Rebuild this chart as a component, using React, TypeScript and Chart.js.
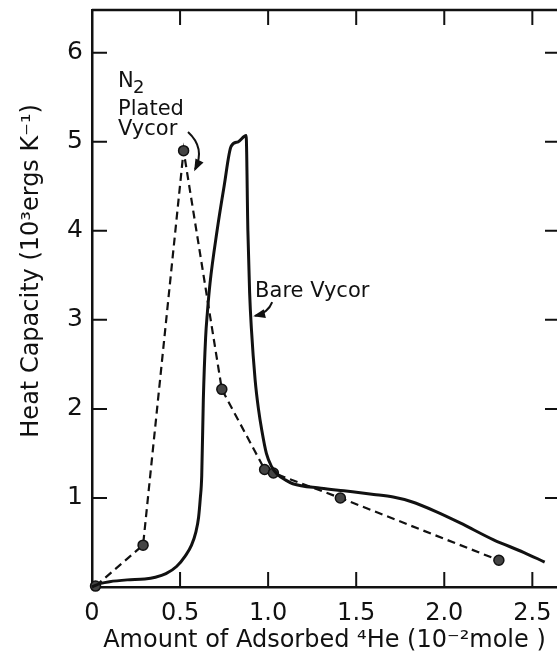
import { useEffect, useRef } from 'react';
import { Chart, registerables } from 'chart.js';

Chart.register(...registerables);

// Bare Vycor (solid curve)
const bareX = [0, 0.05, 0.1, 0.2, 0.3, 0.36, 0.42, 0.48, 0.53, 0.565, 0.59, 0.605, 0.615, 0.623, 0.632, 0.645, 0.655, 0.67, 0.71, 0.75, 0.79, 0.83, 0.875, 0.885, 0.895, 0.905, 0.926, 0.945, 0.964, 0.99, 1.02, 1.05, 1.1, 1.14, 1.3, 1.43, 1.6, 1.71, 1.81, 1.95, 2.09, 2.28, 2.45, 2.57];
const bareY = [0, 0.04, 0.06, 0.08, 0.09, 0.11, 0.15, 0.23, 0.35, 0.47, 0.62, 0.78, 1.0, 1.25, 2.1, 2.8, 3.08, 3.41, 4.0, 4.5, 4.95, 5.0, 5.07, 4.0, 3.3, 2.9, 2.33, 2.0, 1.76, 1.5, 1.35, 1.27, 1.2, 1.16, 1.11, 1.08, 1.04, 1.01, 0.96, 0.85, 0.72, 0.53, 0.39, 0.28];

// N2 plated Vycor (dashed, with points)
const platedX = [0.02, 0.29, 0.52, 0.737, 0.98, 1.03, 1.41, 2.31];
const platedY = [0.01, 0.47, 4.9, 2.22, 1.32, 1.28, 1.0, 0.3];

const xTickValues = [0, 0.5, 1.0, 1.5, 2.0, 2.5];
const xTickLabels = ['0', '0.5', '1.0', '1.5', '2.0', '2.5'];
const yTickValues = [1, 2, 3, 4, 5, 6];
const yTickLabels = ['1', '2', '3', '4', '5', '6'];

const xTitle = 'Amount of Adsorbed \u2074He (10\u207B\u00B2mole )';
const yTitle = 'Heat Capacity (10\u00B3ergs K\u207B\u00B9)';

// annotation texts, anchored in data coordinates (left, baseline)
const noteTexts = ['N', '2', 'Plated', 'Vycor', 'Bare Vycor'];
const noteX = [0.148, 0.233, 0.148, 0.148, 0.926];
const noteY = [5.62, 5.55, 5.3, 5.08, 3.26];
const noteSize = [21, 18, 21, 21, 21];

// curved arrows: start, control, end (data coords)
const arrowFrom = [[0.545, 5.11], [1.023, 3.2]];
const arrowCtrl = [[0.645, 4.93], [1.0, 3.08]];
const arrowTo = [[0.585, 4.69], [0.926, 3.045]];

const FONT = '"DejaVu Sans", sans-serif';
const INK = '#111';

const decorPlugin = {
  id: 'decor',
  afterDraw(chart: any) {
    const { ctx, chartArea } = chart;
    const xs = chart.scales.x;
    const ys = chart.scales.y;
    const { left, right, top, bottom } = chartArea;
    ctx.save();
    ctx.strokeStyle = INK;
    ctx.fillStyle = INK;
    // top frame line
    ctx.lineWidth = 2.5;
    ctx.beginPath();
    ctx.moveTo(left, top);
    ctx.lineTo(right, top);
    ctx.stroke();
    // inward ticks
    const tl = 15;
    ctx.lineWidth = 2;
    xTickValues.forEach((v) => {
      if (v === 0) return;
      const px = xs.getPixelForValue(v);
      ctx.beginPath();
      ctx.moveTo(px, bottom);
      ctx.lineTo(px, bottom - tl);
      ctx.moveTo(px, top);
      ctx.lineTo(px, top + tl);
      ctx.stroke();
    });
    yTickValues.forEach((v) => {
      const py = ys.getPixelForValue(v);
      ctx.beginPath();
      ctx.moveTo(left, py);
      ctx.lineTo(left + tl, py);
      ctx.moveTo(right, py);
      ctx.lineTo(right - 12, py);
      ctx.stroke();
    });
    // y title (rotated)
    ctx.save();
    ctx.font = `24px ${FONT}`;
    ctx.textAlign = 'center';
    ctx.textBaseline = 'middle';
    ctx.translate(32, ys.getPixelForValue(3.55));
    ctx.rotate(-Math.PI / 2);
    ctx.fillText(yTitle, 0, 0);
    ctx.restore();
    // notes
    ctx.textAlign = 'left';
    ctx.textBaseline = 'alphabetic';
    noteTexts.forEach((t, i) => {
      ctx.font = `${noteSize[i]}px ${FONT}`;
      ctx.fillText(t, xs.getPixelForValue(noteX[i]), ys.getPixelForValue(noteY[i]));
    });
    // arrows
    ctx.lineWidth = 2;
    arrowFrom.forEach((f, i) => {
      const x0 = xs.getPixelForValue(f[0]);
      const y0 = ys.getPixelForValue(f[1]);
      const cx = xs.getPixelForValue(arrowCtrl[i][0]);
      const cy = ys.getPixelForValue(arrowCtrl[i][1]);
      const x1 = xs.getPixelForValue(arrowTo[i][0]);
      const y1 = ys.getPixelForValue(arrowTo[i][1]);
      ctx.beginPath();
      ctx.moveTo(x0, y0);
      ctx.quadraticCurveTo(cx, cy, x1, y1);
      ctx.stroke();
      const ang = Math.atan2(y1 - cy, x1 - cx);
      const L = 10;
      const W = 4.5;
      ctx.beginPath();
      ctx.moveTo(x1 + Math.cos(ang) * 2, y1 + Math.sin(ang) * 2);
      ctx.lineTo(x1 - Math.cos(ang) * L + Math.sin(ang) * W, y1 - Math.sin(ang) * L - Math.cos(ang) * W);
      ctx.lineTo(x1 - Math.cos(ang) * L - Math.sin(ang) * W, y1 - Math.sin(ang) * L + Math.cos(ang) * W);
      ctx.closePath();
      ctx.fill();
    });
    ctx.restore();
  },
};

export default function App() {
  const ref = useRef<HTMLCanvasElement | null>(null);
  useEffect(() => {
    if (!ref.current) return;
    const chart = new Chart(ref.current, {
      type: 'scatter',
      data: {
        datasets: [
          {
            label: 'Bare Vycor',
            data: bareX.map((x, i) => ({ x, y: bareY[i] })),
            showLine: true,
            borderColor: INK,
            borderWidth: 3,
            pointRadius: 0,
            cubicInterpolationMode: 'monotone',
            fill: false,
            clip: false,
          } as any,
          {
            label: 'N2 Plated Vycor',
            data: platedX.map((x, i) => ({ x, y: platedY[i] })),
            showLine: true,
            borderColor: INK,
            borderWidth: 2.2,
            borderDash: [8, 5],
            tension: 0,
            pointRadius: 5,
            pointBackgroundColor: '#444',
            pointBorderColor: INK,
            pointBorderWidth: 1.5,
            clip: false,
          } as any,
        ],
      },
      options: {
        animation: false,
        responsive: false,
        layout: { autoPadding: false, padding: { top: 10, left: 0, right: 0, bottom: 0 } },
        plugins: { legend: { display: false }, tooltip: { enabled: false } },
        scales: {
          x: {
            type: 'linear',
            min: 0,
            max: 2.64,
            afterBuildTicks: (s: any) => {
              s.ticks = xTickValues.map((v) => ({ value: v }));
            },
            afterFit: (s: any) => {
              s.height = 69;
              s.paddingLeft = 0;
              s.paddingRight = 0;
            },
            ticks: {
              autoSkip: false,
              maxRotation: 0,
              padding: 12,
              color: INK,
              font: { family: FONT, size: 24 },
              callback: (v: any) => {
                const i = xTickValues.indexOf(Number(v));
                return i >= 0 ? xTickLabels[i] : '';
              },
            },
            grid: { display: false, drawTicks: false },
            border: { display: true, color: INK, width: 2.5 },
            title: {
              display: true,
              text: xTitle,
              color: INK,
              font: { family: FONT, size: 24 },
              padding: { top: 0, bottom: 1 },
            },
          },
          y: {
            type: 'linear',
            min: 0,
            max: 6.48,
            afterBuildTicks: (s: any) => {
              s.ticks = yTickValues.map((v) => ({ value: v }));
            },
            afterFit: (s: any) => {
              s.width = 92;
              s.paddingTop = 0;
              s.paddingBottom = 0;
            },
            ticks: {
              padding: 9,
              color: INK,
              font: { family: FONT, size: 25 },
              callback: (v: any) => {
                const i = yTickValues.indexOf(Number(v));
                return i >= 0 ? yTickLabels[i] : '';
              },
            },
            grid: { display: false, drawTicks: false },
            border: { display: true, color: INK, width: 2.5 },
          },
        },
      } as any,
      plugins: [decorPlugin],
    });
    return () => chart.destroy();
  }, []);
  return (
    <div style={{ position: 'absolute', left: 0, top: 0, width: 557, height: 656, background: '#fff' }}>
      <canvas ref={ref} width={557} height={656} style={{ display: 'block' }} />
    </div>
  );
}
